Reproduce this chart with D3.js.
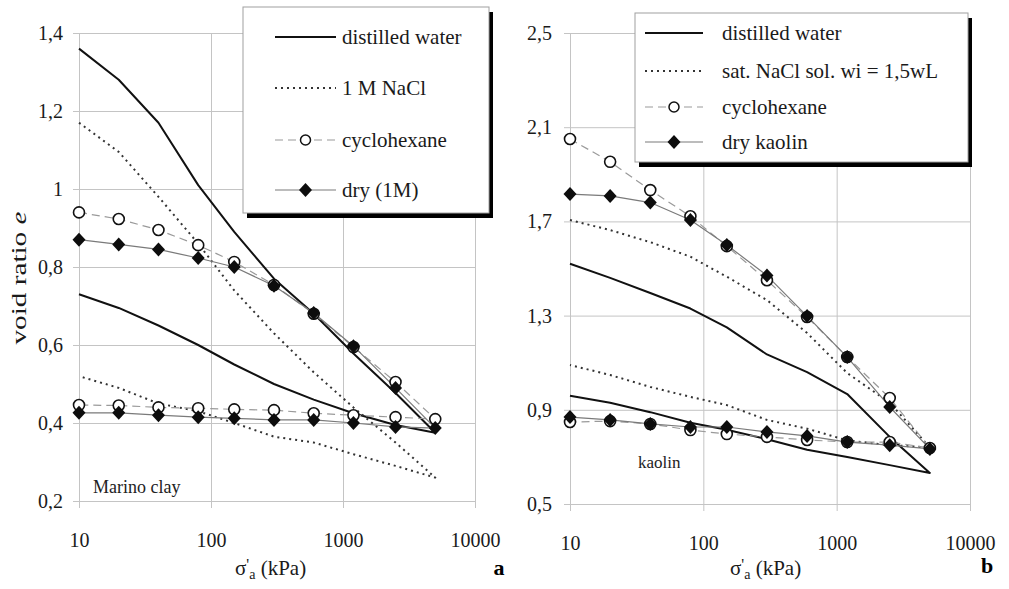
<!DOCTYPE html>
<html>
<head>
<meta charset="utf-8">
<script src="https://cdn.jsdelivr.net/npm/d3@7"></script>
<style>
  html, body { margin: 0; padding: 0; background: #fff; }
  svg { display: block; font-family: "Liberation Serif", "Times New Roman", serif; }
  svg text { font-family: "Liberation Serif", "Times New Roman", serif; }
</style>
</head>
<body>
<svg id="chart" width="1009" height="589"></svg>
<script>
// Axial stress steps (kPa) of the oedometer tests
const pressures = [10, 20, 40, 80, 150, 300, 600, 1200, 2500, 5000];
const xTicks = [10, 100, 1000, 10000];

// Marino clay (panel a): void ratio on loading and on unloading
const marinoWaterLoad    = [1.36, 1.28, 1.17, 1.01, 0.89, 0.77, 0.68, 0.578, 0.477, 0.375];
const marinoWaterUnload  = [0.73, 0.695, 0.65, 0.60, 0.55, 0.50, 0.46, 0.425, 0.395, 0.375];
const marinoNaClLoad     = [1.17, 1.095, 0.98, 0.86, 0.74, 0.63, 0.53, 0.44, 0.35, 0.26];
const marinoNaClUnload   = [0.52, 0.49, 0.45, 0.43, 0.40, 0.365, 0.35, 0.32, 0.29, 0.26];
const marinoCycloLoad    = [0.94, 0.923, 0.895, 0.856, 0.813, 0.754, 0.68, 0.595, 0.505, 0.41];
const marinoCycloUnload  = [0.446, 0.445, 0.44, 0.438, 0.435, 0.433, 0.425, 0.42, 0.415, 0.41];
const marinoDryLoad      = [0.87, 0.858, 0.845, 0.823, 0.80, 0.752, 0.682, 0.597, 0.49, 0.387];
const marinoDryUnload    = [0.426, 0.426, 0.42, 0.415, 0.412, 0.408, 0.408, 0.40, 0.39, 0.387];
const marinoYTicks       = [0.2, 0.4, 0.6, 0.8, 1.0, 1.2, 1.4];
const marinoLegend       = ["distilled water", "1 M NaCl", "cyclohexane", "dry (1M)"];

// Kaolin (panel b)
const kaolinWaterLoad    = [1.52, 1.46, 1.396, 1.33, 1.25, 1.135, 1.06, 0.967, 0.785, 0.632];
const kaolinWaterUnload  = [0.96, 0.93, 0.89, 0.845, 0.815, 0.775, 0.73, 0.70, 0.665, 0.632];
const kaolinNaClLoad     = [1.706, 1.663, 1.612, 1.55, 1.465, 1.366, 1.226, 1.056, 0.93, 0.74];
const kaolinNaClUnload   = [1.09, 1.048, 0.997, 0.955, 0.92, 0.857, 0.82, 0.77, 0.75, 0.74];
const kaolinCycloLoad    = [2.05, 1.953, 1.833, 1.722, 1.595, 1.45, 1.294, 1.124, 0.95, 0.738];
const kaolinCycloUnload  = [0.848, 0.852, 0.84, 0.814, 0.797, 0.785, 0.772, 0.763, 0.763, 0.738];
const kaolinDryLoad      = [1.816, 1.808, 1.78, 1.706, 1.60, 1.47, 1.298, 1.124, 0.912, 0.734];
const kaolinDryUnload    = [0.869, 0.857, 0.84, 0.827, 0.827, 0.806, 0.789, 0.763, 0.75, 0.734];
const kaolinYTicks       = [0.5, 0.9, 1.3, 1.7, 2.1, 2.5];
const kaolinLegend       = ["distilled water", "sat. NaCl sol. wi = 1,5wL", "cyclohexane", "dry kaolin"];

const svg = d3.select("#chart");
const GRID = "#c4c4c4";
const fmt = v => String(+v.toFixed(1)).replace(".", ",");

// loading path followed by the unloading path back to 10 kPa
function cycle(load, unload) {
  const pts = pressures.map((p, i) => [p, load[i]]);
  for (let i = pressures.length - 2; i >= 0; i--) pts.push([pressures[i], unload[i]]);
  return pts;
}

const styles = {
  water: { stroke: "#111", width: 2, dash: null },
  nacl:  { stroke: "#333", width: 2, dash: "2,4" },
  cyclo: { stroke: "#9a9a9a", width: 1.2, dash: "8,5" },
  dry:   { stroke: "#7a7a7a", width: 1.2, dash: null }
};

function diamondPath(x, y, w, h) {
  return `M${x},${y - h}L${x + w},${y}L${x},${y + h}L${x - w},${y}Z`;
}

function panel(cfg) {
  const x = d3.scaleLog().domain([10, 10000]).range([cfg.x0, cfg.x1]);
  const y = d3.scaleLinear().domain(cfg.yDomain).range([cfg.y1, cfg.y0]);
  const g = svg.append("g");

  // horizontal grid + y labels
  g.append("g")
    .attr("transform", `translate(${cfg.x0 - 6},0)`)
    .call(d3.axisLeft(y).tickValues(cfg.yTicks).tickFormat(fmt)
      .tickSize(-(cfg.x1 - cfg.x0 + 6)).tickPadding(cfg.yPad))
    .attr("font-family", null).attr("font-size", 20)
    .call(a => a.select(".domain").remove())
    .call(a => a.selectAll("line").attr("stroke", GRID))
    .call(a => a.selectAll("text").attr("fill", "#1a1a1a"));

  // vertical grid + x labels
  g.append("g")
    .attr("transform", `translate(0,${cfg.y0})`)
    .call(d3.axisBottom(x).tickValues(xTicks).tickFormat(d3.format("d"))
      .tickSize(cfg.y1 - cfg.y0 + 7))
    .attr("font-family", null).attr("font-size", 20)
    .call(a => a.select(".domain").remove())
    .call(a => a.selectAll("line").attr("stroke", GRID))
    .call(a => a.selectAll("text").attr("fill", "#1a1a1a")
      .attr("y", cfg.y1 - cfg.y0 + 46).attr("dy", 0));

  const line = d3.line().x(d => x(d[0])).y(d => y(d[1]));
  const series = [
    { key: "water", pts: cycle(cfg.water[0], cfg.water[1]) },
    { key: "nacl",  pts: cycle(cfg.nacl[0], cfg.nacl[1]) },
    { key: "cyclo", pts: cycle(cfg.cyclo[0], cfg.cyclo[1]), marker: "circle" },
    { key: "dry",   pts: cycle(cfg.dry[0], cfg.dry[1]), marker: "diamond" }
  ];
  // lines first, then markers on top
  series.forEach(s => {
    const st = styles[s.key];
    g.append("path").attr("d", line(s.pts)).attr("fill", "none")
      .attr("stroke", st.stroke).attr("stroke-width", st.width)
      .attr("stroke-dasharray", st.dash).attr("stroke-linejoin", "round");
  });
  series.filter(s => s.marker === "circle").forEach(s => {
    g.append("g").selectAll("circle").data(s.pts).join("circle")
      .attr("cx", d => x(d[0])).attr("cy", d => y(d[1])).attr("r", 5.5)
      .attr("fill", "#fff").attr("stroke", "#111").attr("stroke-width", 1.6);
  });
  series.filter(s => s.marker === "diamond").forEach(s => {
    g.append("g").selectAll("path").data(s.pts).join("path")
      .attr("d", d => diamondPath(x(d[0]), y(d[1]), 6.5, 7)).attr("fill", "#0d0d0d");
  });

  // material label
  g.append("text").attr("x", cfg.tag.x).attr("y", cfg.tag.y)
    .attr("font-size", cfg.tag.size).attr("fill", "#222").text(cfg.tag.text);

  // x-axis title: σ'a (kPa)
  const t = g.append("text").attr("x", cfg.title.x).attr("y", 575)
    .attr("font-size", 21).attr("fill", "#1a1a1a");
  t.append("tspan").text("σ");
  t.append("tspan").attr("font-size", 16).attr("dy", -5).text("'");
  t.append("tspan").attr("font-size", 14).attr("dy", 9).text("a");
  t.append("tspan").attr("dy", -4).text(" (kPa)");

  // panel letter
  g.append("text").attr("x", cfg.letter.x).attr("y", cfg.letter.y)
    .attr("font-size", 22).attr("font-weight", "bold").attr("text-anchor", "middle")
    .text(cfg.letter.text);

  // legend with drop shadow
  const L = cfg.legend;
  const lg = g.append("g");
  lg.append("rect").attr("x", L.x + 4).attr("y", L.y + 5).attr("width", L.w).attr("height", L.h)
    .attr("fill", "#000");
  lg.append("rect").attr("x", L.x).attr("y", L.y).attr("width", L.w).attr("height", L.h)
    .attr("fill", "#fff").attr("stroke", "#a0a0a0").attr("stroke-width", 1);
  ["water", "nacl", "cyclo", "dry"].forEach((k, i) => {
    const st = styles[k];
    const cy = L.rows[i];
    lg.append("line").attr("x1", L.lx0).attr("x2", L.lx1).attr("y1", cy).attr("y2", cy)
      .attr("stroke", st.stroke).attr("stroke-width", st.width).attr("stroke-dasharray", st.dash);
    const mx = (L.lx0 + L.lx1) / 2;
    if (k === "cyclo") {
      lg.append("circle").attr("cx", mx).attr("cy", cy).attr("r", 5)
        .attr("fill", "#fff").attr("stroke", "#111").attr("stroke-width", 1.5);
    }
    if (k === "dry") {
      lg.append("path").attr("d", diamondPath(mx, cy, 6.5, 7)).attr("fill", "#0d0d0d");
    }
    lg.append("text").attr("x", L.tx).attr("y", cy + 7).attr("font-size", 21)
      .attr("fill", "#1a1a1a").text(cfg.legendText[i]);
  });
}

panel({
  x0: 79, x1: 475, y0: 33, y1: 501, yDomain: [0.2, 1.4], yTicks: marinoYTicks, yPad: 10,
  water: [marinoWaterLoad, marinoWaterUnload], nacl: [marinoNaClLoad, marinoNaClUnload],
  cyclo: [marinoCycloLoad, marinoCycloUnload], dry: [marinoDryLoad, marinoDryUnload],
  tag: { x: 93, y: 493, size: 18, text: "Marino clay" },
  title: { x: 235 }, letter: { x: 499, y: 575, text: "a" },
  legend: { x: 243, y: 7, w: 246, h: 206, rows: [37, 88, 140, 190], lx0: 275, lx1: 336, tx: 342 },
  legendText: marinoLegend
});

panel({
  x0: 570, x1: 970, y0: 33, y1: 504, yDomain: [0.5, 2.5], yTicks: kaolinYTicks, yPad: 12,
  water: [kaolinWaterLoad, kaolinWaterUnload], nacl: [kaolinNaClLoad, kaolinNaClUnload],
  cyclo: [kaolinCycloLoad, kaolinCycloUnload], dry: [kaolinDryLoad, kaolinDryUnload],
  tag: { x: 638, y: 468, size: 17, text: "kaolin" },
  title: { x: 730 }, letter: { x: 987, y: 573, text: "b" },
  legend: { x: 635, y: 13, w: 333, h: 149, rows: [33, 71, 107, 142], lx0: 645, lx1: 703, tx: 722 },
  legendText: kaolinLegend
});

// shared y-axis title
svg.append("text")
  .attr("transform", "translate(26,278) rotate(-90)")
  .attr("text-anchor", "middle").attr("font-size", 21).attr("fill", "#1a1a1a")
  .attr("textLength", 133).attr("lengthAdjust", "spacingAndGlyphs")
  .call(t => {
    t.append("tspan").text("void ratio ");
    t.append("tspan").attr("font-style", "italic").text("e");
  });
</script>
</body>
</html>
